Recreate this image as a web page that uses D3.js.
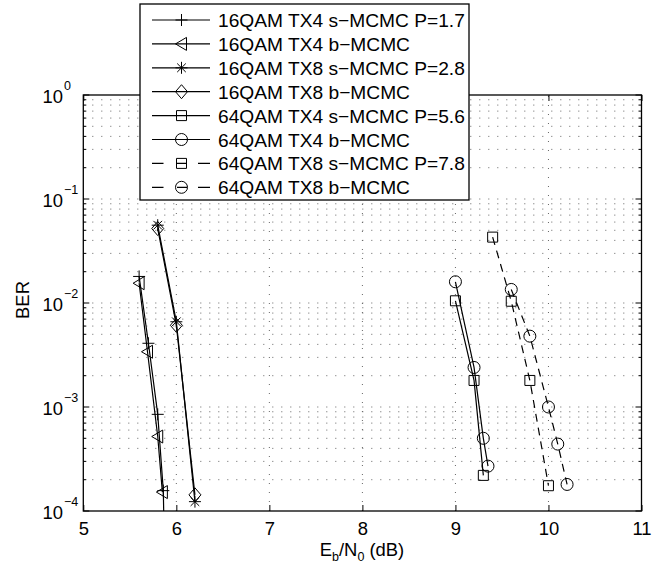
<!DOCTYPE html>
<html><head><meta charset="utf-8">
<script src="https://cdn.jsdelivr.net/npm/d3@7"></script>
<style>body{margin:0;background:#fff}svg{display:block}text{font-family:"Liberation Sans",Arial,Helvetica,sans-serif;fill:#000}</style>
</head><body><svg id="c" width="666" height="570"></svg>
<script>
// ---- data ----
const xTicks = [5, 6, 7, 8, 9, 10, 11];
const yExponents = [0, -1, -2, -3, -4];
const legendLabels = [
  "16QAM TX4 s\u2212MCMC P=1.7",
  "16QAM TX4 b\u2212MCMC",
  "16QAM TX8 s\u2212MCMC P=2.8",
  "16QAM TX8 b\u2212MCMC",
  "64QAM TX4 s\u2212MCMC P=5.6",
  "64QAM TX4 b\u2212MCMC",
  "64QAM TX8 s\u2212MCMC P=7.8",
  "64QAM TX8 b\u2212MCMC"
];
const markers = ["plus", "triangle-left", "star", "diamond", "square", "circle", "square", "circle"];
const dashed = [false, false, false, false, false, false, true, true];

const q16tx4s_x = [5.6, 5.7, 5.8, 5.86, 5.9];
const q16tx4s_y = [0.018, 0.0041, 0.00085, 0.000157, 0.000002];
const q16tx4b_x = [5.6, 5.69, 5.8, 5.85];
const q16tx4b_y = [0.0155, 0.0034, 0.00052, 0.000152];
const q16tx8s_x = [5.8, 6.0, 6.2];
const q16tx8s_y = [0.056, 0.0066, 0.000123];
const q16tx8b_x = [5.8, 6.0, 6.2];
const q16tx8b_y = [0.052, 0.0061, 0.000143];
const q64tx4s_x = [9.0, 9.2, 9.3];
const q64tx4s_y = [0.0105, 0.0018, 0.00022];
const q64tx4b_x = [9.0, 9.2, 9.3, 9.35];
const q64tx4b_y = [0.016, 0.0024, 0.0005, 0.00027];
const q64tx8s_x = [9.4, 9.6, 9.8, 10.0];
const q64tx8s_y = [0.043, 0.0104, 0.0018, 0.000175];
const q64tx8b_x = [9.6, 9.8, 10.0, 10.1, 10.2];
const q64tx8b_y = [0.0135, 0.0048, 0.001, 0.00044, 0.00018];

const seriesX = [q16tx4s_x, q16tx4b_x, q16tx8s_x, q16tx8b_x, q64tx4s_x, q64tx4b_x, q64tx8s_x, q64tx8b_x];
const seriesY = [q16tx4s_y, q16tx4b_y, q16tx8s_y, q16tx8b_y, q64tx4s_y, q64tx4b_y, q64tx8s_y, q64tx8b_y];

// ---- layout ----
const L = 83.3, R = 641.5, T = 95, B = 511;
const x = d3.scaleLinear().domain([5, 11]).range([L, R]);
const y = d3.scaleLog().domain([1e-4, 1]).range([B, T]);
const svg = d3.select("#c");

function fitSize(str, target) {
  const t = svg.append("text").attr("font-size", 100).text(str);
  const w = t.node().getComputedTextLength();
  t.remove();
  const s = 100 * target / w;
  return (isFinite(s) && s > 10 && s < 30) ? s : 19;
}
const LFS = fitSize(legendLabels[0], 247);
const FS = fitSize("10", 20.5);
const SFS = FS * 0.68;

svg.append("defs").append("clipPath").attr("id", "clip")
  .append("rect").attr("x", L).attr("y", T).attr("width", R - L).attr("height", B - T);

// grid
const gridColor = "#666";
const g = svg.append("g");
xTicks.slice(1, -1).forEach(v => {
  g.append("line").attr("x1", x(v)).attr("x2", x(v)).attr("y1", B).attr("y2", T)
    .attr("stroke", gridColor).attr("stroke-width", 1).attr("stroke-dasharray", "1,8");
});
const minorY = [];
for (let e = -4; e < 0; e++) for (let m = 1; m <= 9; m++) minorY.push(m * Math.pow(10, e));
minorY.forEach(v => {
  if (v <= 1e-4) return;
  g.append("line").attr("x1", L).attr("x2", R).attr("y1", y(v)).attr("y2", y(v))
    .attr("stroke", gridColor).attr("stroke-width", 1).attr("stroke-dasharray", "1,8");
});

// axes frame
svg.append("rect").attr("x", L).attr("y", T).attr("width", R - L).attr("height", B - T)
  .attr("fill", "none").attr("stroke", "#000").attr("stroke-width", 1.3);

// x ticks
const xAxisB = d3.axisBottom(x).tickValues(xTicks).tickSize(-6).tickPadding(14).tickFormat(d3.format("d"));
const gx = svg.append("g").attr("transform", `translate(0,${B})`).call(xAxisB);
gx.select(".domain").remove();
gx.selectAll("line").attr("stroke", "#000");
gx.selectAll("text").attr("font-size", FS).attr("dy", null).attr("y", 24).style("font-family", '"Liberation Sans",Arial,sans-serif');
const gxt = svg.append("g").attr("transform", `translate(0,${T})`).call(d3.axisTop(x).tickValues(xTicks).tickSize(-6).tickFormat(""));
gxt.select(".domain").remove();
gxt.selectAll("line").attr("stroke", "#000");

// y ticks (major + minor) left and right
const majorY = yExponents.map(e => Math.pow(10, e));
[[L, 1], [R, -1]].forEach(([xx, dir]) => {
  majorY.forEach(v => svg.append("line").attr("x1", xx).attr("x2", xx + dir * 6).attr("y1", y(v)).attr("y2", y(v)).attr("stroke", "#000"));
  minorY.forEach(v => { if (v > 1e-4 && !majorY.includes(v)) svg.append("line").attr("x1", xx).attr("x2", xx + dir * 3).attr("y1", y(v)).attr("y2", y(v)).attr("stroke", "#000"); });
});
// y tick labels 10^e
yExponents.forEach(e => {
  const yy = y(Math.pow(10, e));
  svg.append("text").attr("x", 63).attr("y", yy + 8).attr("text-anchor", "end").attr("font-size", FS).text("10");
  svg.append("text").attr("x", 64).attr("y", yy - 5).attr("font-size", SFS).text(e === 0 ? "0" : "\u2212" + Math.abs(e));
});

// axis labels
const xl = svg.append("text").attr("x", 362).attr("y", 556).attr("text-anchor", "middle").attr("font-size", FS);
xl.append("tspan").text("E");
xl.append("tspan").attr("font-size", SFS).attr("dy", 5).text("b");
xl.append("tspan").attr("dy", -5).text("/N");
xl.append("tspan").attr("font-size", SFS).attr("dy", 5).text("0");
xl.append("tspan").attr("dy", -5).text(" (dB)");
svg.append("text").attr("transform", "translate(29,300) rotate(-90)").attr("text-anchor", "middle").attr("font-size", FS).text("BER");

// marker drawing
function drawMarker(sel, type, cx, cy) {
  if (type === "circle") {
    sel.append("circle").attr("cx", cx).attr("cy", cy).attr("r", 6).attr("fill", "none").attr("stroke", "#000");
    return;
  }
  let d = "";
  if (type === "plus") { const a = 6; d = `M${cx - a},${cy}H${cx + a}M${cx},${cy - a}V${cy + a}`; }
  else if (type === "star") { const a = 6, b = 4.3; d = `M${cx - a},${cy}H${cx + a}M${cx},${cy - a}V${cy + a}M${cx - b},${cy - b}L${cx + b},${cy + b}M${cx - b},${cy + b}L${cx + b},${cy - b}`; }
  else if (type === "triangle-left") { d = `M${cx - 6},${cy}L${cx + 5},${cy - 6.5}L${cx + 5},${cy + 6.5}Z`; }
  else if (type === "diamond") { d = `M${cx},${cy - 7}L${cx + 6},${cy}L${cx},${cy + 7}L${cx - 6},${cy}Z`; }
  else if (type === "square") { d = `M${cx - 5},${cy - 5}H${cx + 5}V${cy + 5}H${cx - 5}Z`; }
  sel.append("path").attr("d", d).attr("fill", "none").attr("stroke", "#000").attr("stroke-width", 1);
}

// series
const plot = svg.append("g").attr("clip-path", "url(#clip)");
const line = d3.line().x(d => x(d[0])).y(d => y(d[1]));
seriesX.forEach((xs, i) => {
  const pts = xs.map((v, j) => [v, seriesY[i][j]]);
  plot.append("path").attr("d", line(pts)).attr("fill", "none").attr("stroke", "#000")
    .attr("stroke-width", 1.2).attr("stroke-dasharray", dashed[i] ? "8,6" : null);
  const mg = plot.append("g");
  pts.forEach(p => drawMarker(mg, markers[i], x(p[0]), y(p[1])));
});

// legend
const lg = svg.append("g");
lg.append("rect").attr("x", 140).attr("y", 4).attr("width", 329).attr("height", 196)
  .attr("fill", "#fff").attr("stroke", "#000").attr("stroke-width", 1.3);
legendLabels.forEach((lab, i) => {
  const cy = 20 + i * 23.9;
  const d = dashed[i]
    ? `M152,${cy}H163.5M177,${cy}H187M198,${cy}H210`
    : `M152,${cy}H210`;
  lg.append("path").attr("d", d).attr("fill", "none").attr("stroke", "#000").attr("stroke-width", 1.2);
  drawMarker(lg, markers[i], 181.5, cy);
  lg.append("text").attr("x", 218).attr("y", cy + 7).attr("font-size", LFS).text(lab);
});
</script></body></html>
